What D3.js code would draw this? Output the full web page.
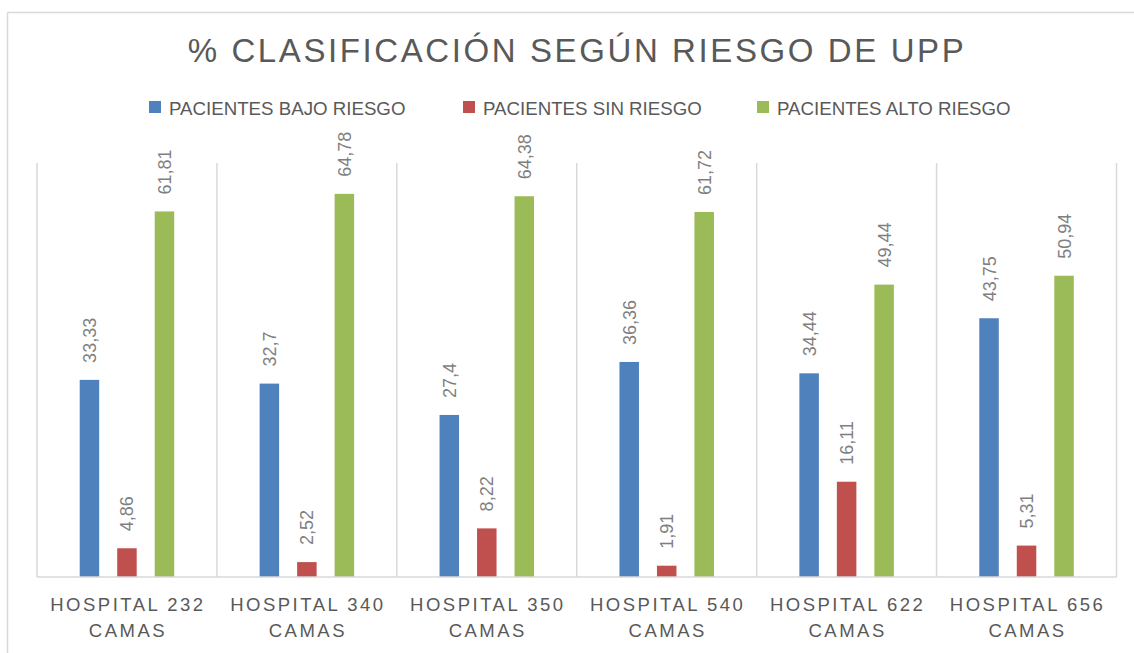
<!DOCTYPE html>
<html>
<head>
<meta charset="utf-8">
<script src="https://cdn.jsdelivr.net/npm/d3@7"></script>
<style>
  body { margin: 0; background: #fff; }
  svg { display: block; }
  text { font-family: "Liberation Sans", Arial, sans-serif; }
</style>
</head>
<body>
<script>
var categories = ["HOSPITAL 232", "HOSPITAL 340", "HOSPITAL 350", "HOSPITAL 540", "HOSPITAL 622", "HOSPITAL 656"];
var series = ["PACIENTES BAJO RIESGO", "PACIENTES SIN RIESGO", "PACIENTES ALTO RIESGO"];
var bajo = [33.33, 32.7, 27.4, 36.36, 34.44, 43.75];
var sin = [4.86, 2.52, 8.22, 1.91, 16.11, 5.31];
var alto = [61.81, 64.78, 64.38, 61.72, 49.44, 50.94];
var colors = ["#4f81bd", "#c0504d", "#9bbb59"];

var width = 1134, height = 653;
var svg = d3.select("body").append("svg")
    .attr("width", width)
    .attr("height", height);

// outer chart frame (only top and left edges are visible)
svg.append("line").attr("x1", 7.5).attr("y1", 12.5).attr("x2", width).attr("y2", 12.5)
    .attr("stroke", "#d9d9d9").attr("stroke-width", 1.5);
svg.append("line").attr("x1", 7.5).attr("y1", 12.5).attr("x2", 7.5).attr("y2", height)
    .attr("stroke", "#d9d9d9").attr("stroke-width", 1.5);

// title
svg.append("text")
    .attr("x", 577)
    .attr("y", 62)
    .attr("text-anchor", "middle")
    .attr("fill", "#595959")
    .style("font-size", "33px")
    .style("letter-spacing", "2.6px")
    .text("% CLASIFICACIÓN SEGÚN RIESGO DE UPP");

// legend
var legendX = [149, 463, 757];
var legend = svg.append("g").selectAll("g")
    .data(series)
    .join("g")
    .attr("transform", (d, i) => `translate(${legendX[i]},0)`);
legend.append("rect")
    .attr("x", 0).attr("y", 101)
    .attr("width", 12).attr("height", 12)
    .attr("fill", (d, i) => colors[i]);
legend.append("text")
    .attr("x", 20).attr("y", 114.5)
    .attr("fill", "#595959")
    .style("font-size", "18.7px")
    .text((d) => d);

var x0 = d3.scaleBand()
    .domain(categories)
    .range([37, 1116.5]);
var x1 = d3.scalePoint()
    .domain(series)
    .range([-37.5, 37.5]);
var y = d3.scaleLinear()
    .domain([0, 70])
    .range([577, 163]);
var barW = 19.5;

// category separators
var seps = categories.map((c) => x0(c)).concat([x0.range()[1]]);
svg.append("g").selectAll("line")
    .data(seps)
    .join("line")
    .attr("x1", (d) => d).attr("x2", (d) => d)
    .attr("y1", y(70)).attr("y2", y(0))
    .attr("stroke", "#d9d9d9")
    .attr("stroke-width", 1.5);

var rows = [];
categories.forEach(function (c, i) {
    [bajo[i], sin[i], alto[i]].forEach(function (v, j) {
        rows.push({ cat: c, s: series[j], j: j, v: v });
    });
});

svg.append("g").selectAll("rect")
    .data(rows)
    .join("rect")
    .attr("x", (d) => x0(d.cat) + x0.bandwidth() / 2 + x1(d.s) - barW / 2)
    .attr("y", (d) => y(d.v))
    .attr("width", barW)
    .attr("height", (d) => y(0) - y(d.v))
    .attr("fill", (d) => colors[d.j]);

// baseline
svg.append("line")
    .attr("x1", x0.range()[0]).attr("x2", x0.range()[1])
    .attr("y1", y(0)).attr("y2", y(0))
    .attr("stroke", "#d9d9d9")
    .attr("stroke-width", 1.5);

// data labels, rotated
svg.append("g").selectAll("text")
    .data(rows)
    .join("text")
    .attr("transform", (d) => {
        var cx = x0(d.cat) + x0.bandwidth() / 2 + x1(d.s);
        return `translate(${cx},${y(d.v) - 17}) rotate(-90)`;
    })
    .attr("dy", "0.36em")
    .attr("fill", "#7f7f7f")
    .style("font-size", "18px")
    .text((d) => String(d.v).replace(".", ","));

// category labels
var catLabels = svg.append("g").selectAll("text")
    .data(categories)
    .join("text")
    .attr("text-anchor", "middle")
    .attr("fill", "#595959")
    .style("font-size", "18.5px")
    .style("letter-spacing", "2.5px");
catLabels.append("tspan")
    .attr("x", (d) => x0(d) + x0.bandwidth() / 2 + 1)
    .attr("y", 611)
    .text((d) => d);
catLabels.append("tspan")
    .attr("x", (d) => x0(d) + x0.bandwidth() / 2 + 1)
    .attr("y", 637)
    .text("CAMAS");
</script>
</body>
</html>
